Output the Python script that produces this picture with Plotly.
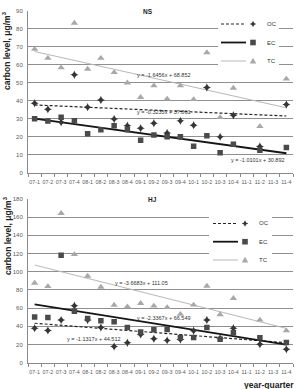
import plotly.graph_objects as go

W, H = 296, 389

categories = ["07-1", "07-2", "07-3", "07-4", "08-1", "08-2", "08-3", "08-4", "09-1", "09-2",
              "09-3", "09-4", "10-1", "10-2", "10-3", "10-4", "11-1", "11-2", "11-3", "11-4"]
xpos = list(range(1, len(categories) + 1))

# NS site
ns_oc = [38.5, 35.1, 27.9, 54.3, 36.3, 40.3, 29.7, 26.0, 24.6, 27.4, 22.0, 28.7, 26.3, 47.2, 19.8, 31.8, None, 14.5, None, 37.8]
ns_ec = [29.8, 28.6, 30.7, 28.7, 21.5, 23.7, 26.0, 23.7, 17.9, 20.9, 19.8, 19.8, 14.6, 20.4, 11.0, 15.7, None, 12.4, None, 13.9]
ns_tc = [68.5, 63.5, 58.2, 83.0, 57.5, 63.5, 55.6, 49.8, 41.8, 48.2, 40.9, 48.2, 40.6, 66.6, 30.6, 46.9, None, 25.6, None, 52.0]
# HJ site
hj_oc = [38.0, 35.5, 46.9, 62.6, 47.0, 38.7, 17.8, 22.0, 31.0, 26.4, 24.6, 25.5, 35.2, 46.9, 27.0, 38.0, None, 20.3, None, 14.8]
hj_ec = [50.2, 49.7, 118.2, 56.7, 48.5, 46.1, 45.1, 38.7, 33.7, 36.3, 36.5, 27.7, 27.6, 38.8, 25.8, 33.0, None, 27.5, None, 22.2]
hj_tc = [87.6, 83.8, 164.2, 119.0, 95.2, 83.2, 63.4, 61.6, 65.3, 62.4, 60.8, 53.3, 63.5, 84.2, 53.0, 70.8, None, 47.0, None, 35.2]

# linear trendlines (slope, intercept) as printed on the chart
ns_trend = {"OC": (-0.3235, 37.861), "EC": (-1.0101, 30.892), "TC": (-1.6456, 68.852)}
hj_trend = {"OC": (-1.1317, 44.512), "EC": (-2.3367, 66.549), "TC": (-3.6683, 111.05)}

FONT = "Liberation Sans"
GRID = "#8f8f8f"
TICKC = "#5a5a5a"

def px(x):
    return x / W

def py(y):
    return 1 - y / H

style = {
    "OC": dict(marker=dict(symbol="star-diamond", size=6, color="#353535"),
               line=dict(color="#262626", width=1.2, dash="3px,2px")),
    "EC": dict(marker=dict(symbol="square", size=5.5, color="#4a4a4a"),
               line=dict(color="#151515", width=1.8)),
    "TC": dict(marker=dict(symbol="triangle-up", size=6.5, color="#a8a8a8"),
               line=dict(color="#b8b8b8", width=1)),
}

fig = go.Figure()

def add_site(series, trend, xa, ya):
    for name, vals in series.items():
        m, b = trend[name]
        fig.add_trace(go.Scatter(x=[xpos[0], xpos[-1]], y=[m * xpos[0] + b, m * xpos[-1] + b],
                                 mode="lines", line=style[name]["line"], xaxis=xa, yaxis=ya,
                                 showlegend=False, hoverinfo="skip"))
    for name, vals in series.items():
        fig.add_trace(go.Scatter(x=xpos, y=vals, mode="markers", marker=style[name]["marker"],
                                 xaxis=xa, yaxis=ya, showlegend=False, name=name))

add_site({"OC": ns_oc, "EC": ns_ec, "TC": ns_tc}, ns_trend, "x", "y")
add_site({"OC": hj_oc, "EC": hj_ec, "TC": hj_tc}, hj_trend, "x2", "y2")

xdom = [px(28), px(293)]
xcommon = dict(domain=xdom, range=[0.5, len(categories) + 0.5], tickmode="array", tickvals=xpos,
               ticktext=categories, ticks="", showgrid=False, zeroline=False,
               showline=True, linecolor="#8a8a8a", linewidth=1,
               tickfont=dict(family=FONT, size=5.3, color=TICKC), ticklabelstandoff=4,
               minor=dict(tickmode="array", tickvals=[i + 0.5 for i in range(0, len(categories) + 1)],
                          ticks="outside", ticklen=3, tickcolor="#8a8a8a", showgrid=False),
               automargin=False, fixedrange=True)
ycommon = dict(showgrid=True, gridcolor=GRID, gridwidth=0.8, zeroline=False,
               showline=True, linecolor="#8a8a8a", linewidth=1, ticks="",
               tickfont=dict(family=FONT, size=6, color=TICKC), ticklabelstandoff=3,
               automargin=False, fixedrange=True)

fig.update_layout(
    width=W, height=H, margin=dict(l=0, r=0, t=0, b=0),
    paper_bgcolor="white", plot_bgcolor="white", showlegend=False,
    xaxis=dict(anchor="y", **xcommon),
    yaxis=dict(anchor="x", domain=[py(172.5), py(10.5)], range=[0, 90], dtick=10, **ycommon),
    xaxis2=dict(anchor="y2", **xcommon),
    yaxis2=dict(anchor="x2", domain=[py(362.7), py(199)], range=[0, 180], dtick=20, **ycommon),
)

ann = []
shapes = []

def label(x, y, text, size=5.5, bold=False, color="#333333", bg=None, xanchor="center", angle=0):
    a = dict(x=px(x), y=py(y), xref="paper", yref="paper", text=f"<b>{text}</b>" if bold else text,
             showarrow=False, font=dict(family=FONT, size=size, color=color), xanchor=xanchor,
             yanchor="middle", textangle=angle)
    if bg:
        a["bgcolor"] = bg
        a["borderpad"] = 0
    ann.append(a)

def eq(trend, name):
    m, b = trend[name]
    return f"y = {m:.4f}x + {b:g}"

# titles
label(148, 11.5, "NS", size=6.5, bold=True, color="#222", bg="white")
label(152.5, 199.5, "HJ", size=6.5, bold=True, color="#222", bg="white")
# y axis titles
label(7, 51, "carbon level, μg/m<sup>3</sup>", size=8.5, bold=True, color="#222", angle=-90)
label(7, 236, "carbon level, μg/m<sup>3</sup>", size=8.5, bold=True, color="#222", angle=-90)
label(296, 384.5, "year-quarter", size=8.5, bold=True, color="#222", xanchor="right")

# trend equations
label(164, 75, eq(ns_trend, "TC"), size=5.5)
label(164, 112, eq(ns_trend, "OC"), size=5.5)
label(258, 159.5, eq(ns_trend, "EC"), size=5.5)
label(141, 283, eq(hj_trend, "TC"), size=5.5)
label(164, 318, eq(hj_trend, "EC"), size=5.5)
label(94, 338.5, eq(hj_trend, "OC"), size=5.5)

# manual legends
def legend(x0, x1, ys, lx0, lx1, mx, tx):
    shapes.append(dict(type="rect", xref="paper", yref="paper", x0=px(x0), x1=px(x1),
                       y0=py(ys[-1] + 8), y1=py(ys[0] - 8), fillcolor="white", line=dict(width=0)))
    for name, y in zip(["OC", "EC", "TC"], ys):
        ln = style[name]["line"]
        shapes.append(dict(type="line", xref="paper", yref="paper", x0=px(lx0), x1=px(lx1),
                           y0=py(y), y1=py(y), line=dict(color=ln["color"], width=ln["width"],
                                                         dash=ln.get("dash", "solid"))))
        c = style[name]["marker"]["color"]
        if name == "OC":
            r, s = 3.3, 1.1
            path = (f"M {px(mx)},{py(y - r)} L {px(mx + s)},{py(y - s)} L {px(mx + r)},{py(y)} "
                    f"L {px(mx + s)},{py(y + s)} L {px(mx)},{py(y + r)} L {px(mx - s)},{py(y + s)} "
                    f"L {px(mx - r)},{py(y)} L {px(mx - s)},{py(y - s)} Z")
        elif name == "EC":
            r = 2.8
            path = (f"M {px(mx - r)},{py(y - r)} L {px(mx + r)},{py(y - r)} L {px(mx + r)},{py(y + r)} "
                    f"L {px(mx - r)},{py(y + r)} Z")
        else:
            path = (f"M {px(mx - 3.2)},{py(y + 2.6)} L {px(mx + 3.2)},{py(y + 2.6)} "
                    f"L {px(mx)},{py(y - 3.3)} Z")
        shapes.append(dict(type="path", xref="paper", yref="paper", path=path, fillcolor=c,
                           line=dict(width=0)))
        ann.append(dict(x=px(tx), y=py(y), xref="paper", yref="paper", text=name, showarrow=False,
                        font=dict(family=FONT, size=6, color="#333"), xanchor="left", yanchor="middle"))

legend(218, 279, [24, 42.5, 61], 221, 246, 253, 265)
legend(209, 272, [223.5, 241.7, 260], 213, 238, 245, 257)

fig.update_layout(annotations=ann, shapes=shapes)
fig.write_html("out.html")
